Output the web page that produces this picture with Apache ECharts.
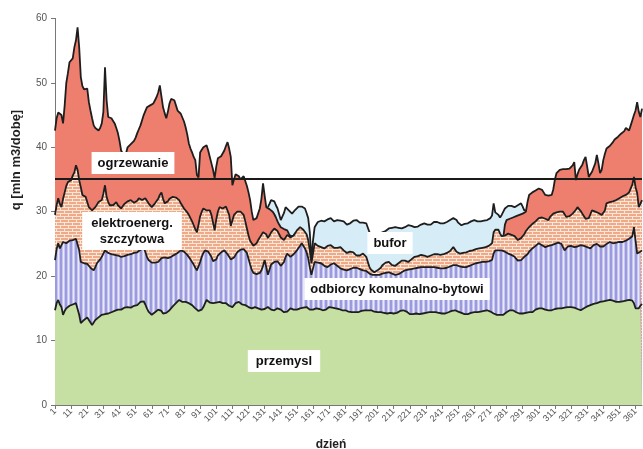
<!DOCTYPE html>
<html>
<head>
<meta charset="utf-8">
<script src="https://cdn.jsdelivr.net/npm/echarts@6/dist/echarts.min.js"></script>
<style>
html,body{margin:0;padding:0;background:#fff;}
#c{width:643px;height:449px;}
</style>
</head>
<body>
<div id="c"></div>
<script>
// day numbers (categories)
const days = [];
for (let d = 1; d <= 365; d++) days.push(String(d));

// upper edge of each layer [mln m3/doba]
const przemyslTop = [
14.7,15.8,16.3,15.6,15.2,14.0,14.6,15.0,15.2,15.4,
15.5,15.6,15.7,15.8,15.6,14.0,12.7,13.0,13.2,13.4,
13.6,13.2,12.8,12.4,12.8,13.2,13.5,13.6,13.8,14.0,
14.0,14.1,13.9,14.2,14.2,14.4,14.3,14.6,14.7,14.8,
14.9,14.8,15.0,15.1,15.0,15.2,15.2,15.1,15.3,15.4,
15.5,15.5,15.8,16.0,16.3,16.1,15.6,15.0,14.5,14.2,
14.0,14.2,14.4,14.6,14.8,15.0,14.6,14.2,14.0,14.3,
14.5,14.7,15.0,15.3,15.5,15.8,16.0,16.3,16.2,16.0,
16.1,16.0,16.0,15.8,15.7,15.5,15.2,15.0,14.7,14.6,
14.5,14.8,15.2,15.5,16.3,16.0,15.9,15.8,15.8,15.6,
15.9,16.0,16.0,15.9,15.8,15.8,15.8,15.6,15.4,15.3,
15.2,15.5,15.8,16.0,16.0,15.8,15.6,15.5,15.5,15.3,
15.2,15.0,15.0,15.1,15.2,15.2,15.0,14.9,14.8,14.7,
14.9,15.1,15.2,15.0,14.8,14.7,14.7,14.9,15.0,15.0,
14.8,14.6,14.4,14.2,14.5,14.8,15.0,14.9,14.8,14.7,
14.8,14.9,15.0,15.0,15.1,15.2,15.2,15.0,14.8,14.7,
14.8,14.9,15.0,15.0,14.9,14.8,14.7,14.7,14.8,15.0,
15.2,15.2,15.1,15.0,15.0,14.9,14.9,14.8,14.7,14.7,
14.7,14.6,14.5,14.5,14.4,14.4,14.4,14.5,14.4,14.5,
14.6,14.7,14.7,14.6,14.7,14.7,14.7,14.6,14.5,14.4,
14.4,14.5,14.4,14.4,14.3,14.3,14.2,14.2,14.3,14.2,
14.2,14.2,14.3,14.5,14.6,14.7,14.7,14.7,14.5,14.3,
14.1,14.0,14.1,14.1,14.2,14.2,14.1,14.2,14.2,14.2,
14.3,14.3,14.4,14.4,14.4,14.4,14.4,14.3,14.3,14.2,
14.2,14.2,14.2,14.3,14.4,14.5,14.6,14.7,14.7,14.6,
14.5,14.4,14.3,14.2,14.1,14.0,14.1,14.2,14.3,14.3,
14.4,14.4,14.4,14.5,14.5,14.6,14.6,14.7,14.7,14.7,
14.5,14.3,14.2,14.1,14.0,14.0,14.0,14.0,14.0,14.2,
14.4,14.6,14.7,14.7,14.7,14.5,14.4,14.3,14.2,14.2,
14.2,14.3,14.3,14.4,14.4,14.4,14.4,14.6,14.8,14.9,
15.0,15.0,15.0,14.9,14.8,14.8,14.7,14.7,14.7,14.8,
14.9,15.0,15.0,15.0,15.0,15.1,15.1,15.2,15.2,15.2,
15.2,15.2,15.1,15.0,14.9,14.8,14.7,14.8,15.0,15.2,
15.3,15.4,15.5,15.6,15.7,15.8,15.8,15.9,16.0,16.0,
16.1,16.1,16.2,16.2,16.3,16.3,16.2,16.1,16.0,16.0,
16.0,16.0,16.1,16.2,16.2,16.3,16.3,16.3,16.2,15.8,
15.0,14.7,15.0,15.4,15.7
];

const komunalneTop = [
22.5,24.2,25.1,24.3,24.8,25.3,25.2,25.1,25.3,25.5,
25.4,25.6,25.7,25.8,26.0,24.0,22.2,22.1,22.0,22.0,
21.9,21.7,21.3,21.0,20.9,21.4,22.0,22.3,22.6,23.0,
23.5,24.0,23.8,23.6,23.5,23.4,23.4,23.3,23.3,23.2,
23.1,23.0,23.0,23.1,23.2,23.3,23.3,23.4,23.5,23.6,
23.6,23.7,23.9,24.1,24.2,24.3,23.8,23.0,22.5,22.3,
22.1,22.0,22.1,22.2,22.2,22.5,22.8,23.0,22.9,22.8,
22.8,22.8,23.0,23.2,23.3,23.5,23.6,23.8,24.0,24.0,
23.8,23.5,23.3,23.0,22.6,22.2,21.8,21.3,20.9,21.5,
22.2,23.0,23.6,24.0,23.9,23.8,23.7,23.0,22.3,22.0,
22.6,23.2,23.5,23.7,23.9,24.0,23.8,23.4,23.0,22.6,
22.5,22.9,23.3,23.7,23.9,24.1,24.3,24.2,23.9,23.6,
23.5,21.8,21.0,20.5,20.4,20.3,20.2,20.5,20.9,21.6,
22.5,21.4,20.2,21.0,21.8,22.0,22.2,22.5,22.3,22.0,
21.6,21.4,22.2,23.0,23.5,23.3,23.0,23.0,23.4,23.7,
24.0,24.3,24.7,25.1,24.8,24.3,23.7,22.8,21.4,20.2,
21.2,22.2,22.2,22.1,22.0,22.0,21.8,21.6,21.5,21.4,
21.6,21.8,22.0,22.0,21.8,21.6,21.4,21.2,21.1,21.0,
20.9,20.9,21.0,21.1,21.2,21.3,21.4,21.3,21.2,21.1,
21.0,20.9,20.9,20.8,20.6,20.4,20.2,20.2,20.2,20.2,
20.2,20.2,20.3,20.4,20.5,20.5,20.6,20.6,20.5,20.4,
20.3,20.2,20.2,20.3,20.5,20.6,20.8,20.9,20.9,21.0,
21.0,21.1,21.1,21.2,21.2,21.3,21.3,21.4,21.4,21.4,
21.4,21.4,21.4,21.4,21.4,21.4,21.4,21.3,21.3,21.2,
21.2,21.2,21.2,21.3,21.4,21.5,21.6,21.7,21.7,21.7,
21.6,21.5,21.5,21.4,21.4,21.4,21.5,21.6,21.7,21.8,
21.9,22.0,22.0,22.1,22.1,22.2,22.2,22.2,22.3,22.3,
22.4,22.5,23.5,24.0,24.2,24.0,24.0,24.0,24.0,23.8,
23.6,23.5,23.4,23.3,23.2,23.0,22.7,22.4,22.2,22.5,
22.8,23.0,23.0,23.4,23.8,24.0,24.3,24.5,24.7,24.9,
25.1,25.0,24.8,24.6,24.5,24.6,24.7,24.8,24.8,24.9,
25.0,25.1,25.2,25.3,25.0,24.5,24.0,24.3,24.6,24.8,
24.7,24.6,24.5,24.5,24.6,24.7,24.8,24.8,24.7,24.6,
24.5,24.4,24.3,24.5,24.8,25.1,25.0,24.8,24.6,24.5,
24.6,24.8,25.0,25.2,25.3,25.2,25.1,25.1,25.2,25.2,
25.3,25.3,25.3,25.4,25.5,25.6,25.8,25.9,26.2,27.6,
25.5,23.5,23.6,23.8,24.0
];

const elektroTop = [
29.5,31.0,32.1,31.2,30.7,32.0,33.0,34.0,34.6,34.8,
34.9,35.6,36.1,37.2,36.5,34.9,33.8,32.6,32.4,32.3,
31.5,30.7,30.4,30.2,30.4,30.7,31.1,31.5,31.6,31.8,
32.8,34.1,32.3,31.5,31.0,30.7,31.0,31.2,31.5,31.0,
30.7,30.5,30.8,31.2,31.5,31.6,31.7,31.8,31.6,31.4,
31.3,31.7,32.1,31.9,31.8,32.0,32.1,31.8,31.3,31.0,
30.7,31.0,31.3,31.5,32.0,32.6,33.0,32.0,31.3,31.5,
31.6,32.0,32.3,32.3,32.3,32.2,32.1,31.8,31.3,31.0,
30.5,30.2,29.9,29.5,29.0,28.5,27.9,27.3,26.8,28.0,
29.3,30.0,30.5,30.3,30.2,30.2,30.2,29.5,28.3,27.1,
28.8,30.0,30.7,30.6,30.5,30.5,30.8,31.0,29.5,27.8,
27.6,29.5,29.8,30.0,30.2,30.0,29.7,29.5,28.5,27.4,
26.3,25.5,25.1,24.7,24.5,25.1,25.6,26.0,26.4,26.8,
27.1,26.5,25.9,26.3,26.8,27.1,27.4,27.6,27.0,26.5,
26.0,25.8,25.6,26.0,26.4,26.2,26.0,25.9,26.3,26.7,
27.1,27.3,27.6,27.4,27.2,27.1,26.5,25.6,24.0,22.0,
23.5,25.1,24.9,24.7,24.5,24.5,24.4,24.3,24.5,24.7,
24.8,24.8,24.6,24.4,24.3,24.4,24.5,24.5,24.3,24.0,
23.7,23.6,23.7,23.8,23.7,23.7,23.4,23.2,23.0,23.2,
23.4,23.5,23.5,23.0,22.2,21.4,21.0,20.7,20.6,20.8,
20.9,21.0,21.3,21.7,22.0,22.1,22.2,22.2,22.0,21.7,
21.4,21.6,21.8,22.0,22.2,22.4,22.5,22.4,22.3,22.2,
22.4,22.6,22.8,23.0,23.0,23.1,23.2,23.3,23.3,23.2,
23.1,23.0,23.0,23.2,23.3,23.4,23.5,23.4,23.3,23.3,
23.3,23.4,23.5,23.6,23.7,23.9,24.2,24.5,24.2,23.8,
23.5,23.5,23.6,23.6,23.7,23.7,23.8,23.9,24.0,24.0,
24.1,24.2,24.3,24.3,24.4,24.4,24.5,24.5,24.6,24.7,
24.9,25.1,26.8,27.2,27.4,27.2,26.6,26.2,26.0,26.3,
26.6,26.6,26.5,26.4,26.4,26.2,25.9,25.6,25.7,25.9,
26.0,26.5,27.0,27.3,27.6,27.9,28.1,28.2,28.5,28.8,
29.0,29.1,29.1,29.1,28.9,28.7,28.7,29.2,29.5,29.7,
29.8,29.9,29.9,30.0,30.2,30.0,29.6,29.2,29.1,29.3,
29.5,29.7,29.9,30.3,30.7,30.5,30.1,29.7,29.3,28.9,
28.7,29.0,29.6,30.2,30.1,30.0,29.9,29.8,29.6,29.5,
29.6,30.2,31.3,31.4,31.5,31.5,31.6,31.7,31.8,32.0,
32.1,32.3,32.4,32.5,32.6,32.6,33.0,33.3,34.2,35.4,
33.8,32.9,30.7,31.2,31.8
];

// heating layer top: absent (null) in summer, when it adds nothing
const ogrzewanieTop = [
42.6,44.5,45.4,45.2,45.0,43.7,46.5,50.0,51.5,53.2,
53.4,53.8,55.5,56.6,58.6,55.5,50.9,49.5,49.0,48.8,
49.1,47.0,45.7,44.5,43.4,43.0,42.8,42.6,43.0,43.7,
45.5,52.4,47.3,44.7,44.8,44.5,44.2,43.7,43.0,42.2,
41.0,39.5,39.0,39.0,39.0,40.0,40.2,40.5,40.8,41.0,
41.5,42.2,42.8,43.4,44.2,45.0,45.6,46.2,46.4,46.5,
46.6,46.8,47.3,47.8,48.5,49.6,49.9,46.2,45.3,44.5,
45.5,46.8,47.5,47.8,47.3,46.5,45.7,45.4,45.2,45.0,
44.0,43.1,42.0,40.6,39.8,39.2,38.5,38.0,35.7,35.3,
39.2,39.6,40.0,40.2,40.3,39.5,38.5,37.5,36.5,35.2,
37.0,38.3,38.5,38.6,38.8,39.5,40.2,40.8,39.8,38.5,
34.1,35.0,35.8,36.0,35.5,35.0,35.3,35.5,35.7,34.0,
33.0,31.8,30.0,28.7,28.8,29.0,29.1,30.5,32.0,34.4,
32.5,30.7,30.5,30.4,30.2,30.0,29.6,29.1,28.5,28.0,
27.6,27.5,27.3,27.2,27.1,26.6,26.2,25.9,26.3,26.7,
null,null,null,null,null,null,null,null,null,null,
null,null,null,null,null,null,null,null,null,null,
null,null,null,null,null,null,null,null,null,null,
null,null,null,null,null,null,null,null,null,null,
null,null,null,null,null,null,null,null,null,null,
null,null,null,null,null,null,null,null,null,null,
null,null,null,null,null,null,null,null,null,null,
null,null,null,null,null,null,null,null,null,null,
null,null,null,null,null,null,null,null,null,null,
null,null,null,null,null,null,null,null,null,null,
null,null,null,null,null,null,null,null,null,null,
null,null,null,null,null,null,null,null,null,null,
null,null,null,null,null,null,null,null,26.0,28.0,
28.7,28.8,28.9,29.0,29.1,29.2,29.3,29.4,29.5,29.6,
29.7,29.7,30.0,31.5,32.6,32.8,33.0,33.0,33.3,33.5,
33.6,33.5,33.4,33.0,32.6,32.3,32.5,32.6,32.6,33.5,
35.0,36.0,36.3,36.5,36.7,36.6,36.5,36.6,36.6,36.7,
36.7,37.2,37.7,34.9,35.8,36.5,36.7,37.3,38.0,38.5,
37.0,35.4,35.8,36.2,36.4,37.5,38.8,37.5,36.0,36.5,
38.0,39.0,39.8,40.0,40.2,40.3,40.8,41.2,41.4,41.6,
41.9,42.1,42.2,42.5,43.0,42.8,42.6,43.4,44.2,45.0,
45.7,47.0,45.5,44.7,46.0
];

// buffer layer top: only where storage adds above heating/other use
const buforTop = [
null,null,null,null,null,null,null,null,null,null,
null,null,null,null,null,null,null,null,null,null,
null,null,null,null,null,null,null,null,null,null,
null,null,null,null,null,null,null,null,null,null,
null,null,null,null,null,null,null,null,null,null,
null,null,null,null,null,null,null,null,null,null,
null,null,null,null,null,null,null,null,null,null,
null,null,null,null,null,null,null,null,null,null,
null,null,null,null,null,null,null,null,null,null,
null,null,null,null,null,null,null,null,null,null,
null,null,null,null,null,null,null,null,null,null,
null,null,null,null,null,null,null,null,null,null,
null,null,null,null,null,null,null,null,null,null,
null,null,30.7,31.2,31.8,31.8,31.6,31.0,30.5,29.6,
28.7,28.9,29.8,30.7,30.5,30.2,30.0,29.7,30.0,30.3,
30.5,30.8,31.0,30.8,30.6,30.5,29.8,29.0,26.8,22.5,
25.5,27.6,28.0,28.4,28.7,28.6,28.5,28.5,28.6,28.8,
28.9,29.0,28.7,28.5,28.6,28.7,28.7,28.6,28.5,28.5,
28.2,28.0,28.0,28.2,28.4,28.6,28.7,28.7,28.5,28.3,
28.2,28.3,28.4,28.2,27.5,26.8,26.6,26.5,26.4,26.4,
26.5,26.6,26.7,26.8,26.9,27.0,27.2,27.4,27.4,27.5,
27.5,27.6,27.6,27.5,27.4,27.4,27.4,27.6,27.8,27.9,
27.9,27.8,27.7,27.6,27.6,27.7,27.8,28.0,28.1,28.2,
28.1,28.0,27.9,28.0,28.2,28.4,28.5,28.4,28.3,28.2,
28.2,28.2,28.3,28.4,28.6,28.7,28.8,29.0,29.1,28.7,
28.3,28.0,27.9,28.0,28.1,28.2,28.2,28.3,28.5,28.6,
28.7,28.6,28.5,28.5,28.5,28.5,28.6,28.6,28.7,28.7,
29.0,29.4,31.3,29.9,29.9,29.5,29.1,29.5,30.0,30.5,
30.7,30.9,31.0,30.9,30.8,30.7,30.8,31.0,31.2,31.3,
30.8,30.2,30.2,null,null,null,null,null,null,null,
null,null,null,null,null,null,null,null,null,null,
null,null,null,null,null,null,null,null,null,null,
null,null,null,null,null,null,null,null,null,null,
null,null,null,null,null,null,null,null,null,null,
null,null,null,null,null,null,null,null,null,null,
null,null,null,null,null,null,null,null,null,null,
null,null,null,null,null
];

const limitLevel = 35.1;
const yTicks = [0, 10, 20, 30, 40, 50, 60];

// fill patterns
function brickPattern() {
  const c = document.createElement('canvas');
  c.width = 8; c.height = 6;
  const g = c.getContext('2d');
  g.fillStyle = '#efa987'; g.fillRect(0, 0, 8, 6);
  g.fillStyle = '#fbe6da';
  g.fillRect(0, 0, 8, 1); g.fillRect(0, 3, 8, 1);
  g.fillRect(0, 0, 1, 3); g.fillRect(4, 3, 1, 3);
  return c;
}
function stripePattern() {
  const c = document.createElement('canvas');
  c.width = 5; c.height = 4;
  const g = c.getContext('2d');
  g.fillStyle = '#c6c6f0'; g.fillRect(0, 0, 5, 4);
  g.fillStyle = '#9a9add'; g.fillRect(0, 0, 2, 4);
  g.fillStyle = '#e8e8fb'; g.fillRect(3, 0, 1, 4);
  return c;
}

const edge = { color: '#1e1e1e', width: 1.8 };
function layer(name, data, fill, z) {
  return {
    name, type: 'line', data, z,
    showSymbol: false, symbol: 'none', connectNulls: false,
    lineStyle: edge,
    areaStyle: { color: fill, opacity: 1, origin: 'start' },
    emphasis: { disabled: true }
  };
}

const FONT = '"Liberation Sans", Arial, sans-serif';
const chart = echarts.init(document.getElementById('c'), null, { renderer: 'canvas' });
const lbl = (text, x, y, px) => ({
  type: 'text', x, y, z: 100,
  style: {
    text, font: 'bold 13px ' + FONT, fill: '#111',
    backgroundColor: '#fff', padding: [3, px || 6, 3, px || 6],
    align: 'center', verticalAlign: 'middle', lineHeight: 16
  }
});
chart.setOption({
  animation: false,
  backgroundColor: '#fff',
  grid: { left: 55, right: 1, top: 18.4, bottom: 44 },
  xAxis: {
    type: 'category', data: days, boundaryGap: false,
    axisLine: { lineStyle: { color: '#777', width: 1 } },
    axisTick: { interval: 9, length: 4, lineStyle: { color: '#777' } },
    axisLabel: { interval: 9, rotate: 45, fontSize: 9, color: '#555', margin: 5, fontFamily: FONT },
    splitLine: { show: false }
  },
  yAxis: {
    type: 'value', min: yTicks[0], max: yTicks[yTicks.length - 1], interval: 10,
    axisLine: { show: true, lineStyle: { color: '#777', width: 1 } },
    axisTick: { show: true, length: 4, lineStyle: { color: '#777' } },
    axisLabel: { fontSize: 10, color: '#555', margin: 8, fontFamily: FONT },
    splitLine: { show: false }
  },
  graphic: [
    lbl('ogrzewanie', 133, 163),
    lbl('elektroenerg.\nszczytowa', 132, 231, 9),
    lbl('bufor', 390, 243),
    lbl('odbiorcy komunalno-bytowi', 397, 289),
    lbl('przemysl', 284, 361, 8),
    { type: 'text', x: 16, y: 160, rotation: Math.PI / 2, z: 100,
      style: { text: 'q [mln m3/dobę]', font: 'bold 13px ' + FONT, fill: '#222',
        align: 'center', verticalAlign: 'middle' } },
    { type: 'text', x: 331, y: 439, z: 100,
      style: { text: 'dzień', font: 'bold 12px ' + FONT, fill: '#222',
        align: 'center', verticalAlign: 'top' } }
  ],
  series: [
    layer('bufor', buforTop, '#d6ecf6', 1),
    layer('ogrzewanie', ogrzewanieTop, '#ee7f6f', 2),
    layer('elektroenerg. szczytowa', elektroTop, { image: brickPattern(), repeat: 'repeat' }, 3),
    layer('odbiorcy komunalno-bytowi', komunalneTop, { image: stripePattern(), repeat: 'repeat' }, 4),
    Object.assign(layer('przemysl', przemyslTop, '#c6e0a4', 5), {
      markLine: {
        silent: true, symbol: 'none', z: 50,
        label: { show: false },
        lineStyle: { color: '#1a1a1a', width: 2.2, type: 'solid' },
        data: [{ yAxis: limitLevel }]
      }
    })
  ]
});
</script>
</body>
</html>
